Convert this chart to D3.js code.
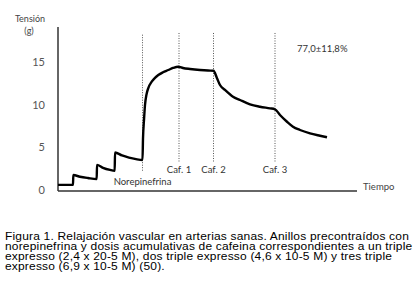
<!DOCTYPE html>
<html><head><meta charset="utf-8">
<script src="https://cdn.jsdelivr.net/npm/d3@7"></script>
<style>
html,body{margin:0;padding:0;background:#fff;}
svg{display:block;}
</style></head>
<body>
<script>
// ---- data ----
const yTicks = [0, 5, 10, 15];
// tension trace: time (arbitrary units) and tension (g)
const traceTime = [0, 15, 15.3, 22, 30, 38.7, 39, 45, 52, 56.7, 57, 64, 71, 78, 84.5,
  85, 86, 87, 88.5, 90.3, 93.7, 97, 100.3, 105, 110.3, 115, 120.3, 125, 132, 142, 150, 155.5,
  159, 162, 167, 175, 182, 192, 202, 212, 217,
  222, 229, 235, 242, 252, 262, 269];
const traceTension = [0.6, 0.6, 1.75, 1.55, 1.4, 1.28, 2.95, 2.6, 2.35, 2.25, 4.4, 4.05, 3.8, 3.62, 3.52,
  6.0, 8.2, 9.96, 11.2, 11.95, 12.69, 13.15, 13.48, 13.8, 14.06, 14.3, 14.45, 14.3, 14.18, 14.06, 14.0, 13.98,
  13.1, 12.3, 11.72, 10.93, 10.55, 10.04, 9.76, 9.57, 9.46,
  8.79, 8.0, 7.42, 7.03, 6.64, 6.36, 6.18];
const markerNames = ["Norepinefrina", "Caf. 1", "Caf. 2", "Caf. 3"];
const markerTime = [84.5, 121, 155.5, 217];
const resultLabel = "77,0\u00b111,8%";
const yTitle = ["Tensión", "(g)"];
const xTitle = "Tiempo";
const caption = [
  "Figura 1. Relajación vascular en arterias sanas. Anillos precontraídos con",
  "norepinefrina y dosis acumulativas de cafeina correspondientes a un triple",
  "expresso (2,4 x 20-5 M), dos triple expresso (4,6 x 10-5 M) y tres triple",
  "expresso (6,9 x 10-5 M) (50)."
];

// ---- drawing ----
const W = 420, H = 300;
const svg = d3.select("body").append("svg").attr("width", W).attr("height", H);
const x = d3.scaleLinear().domain([0, 300]).range([58, 358]);
const y = d3.scaleLinear().domain([0, 15]).range([190, 62]);
const gfont = "Lato, 'Open Sans', sans-serif";
const axisCol = "#333";

// axes
svg.append("line").attr("x1", x(0)).attr("x2", x(0)).attr("y1", y(19.1)).attr("y2", y(-0.12))
  .attr("stroke", axisCol).attr("stroke-width", 1.5);
svg.append("line").attr("x1", x(0)).attr("x2", x(299)).attr("y1", y(-0.12)).attr("y2", y(-0.12))
  .attr("stroke", axisCol).attr("stroke-width", 1.5);

svg.selectAll("text.ytick").data(yTicks).enter().append("text")
  .attr("class", "ytick")
  .attr("x", x(0) - 13).attr("y", d => y(d)).attr("dy", "0.36em")
  .attr("text-anchor", "end").attr("font-family", gfont).attr("font-size", 11)
  .attr("fill", "#555").text(d => d);

svg.append("text").attr("x", 30).attr("y", 22).attr("text-anchor", "middle")
  .attr("font-family", gfont).attr("font-size", 9).attr("fill", "#444").text(yTitle[0]);
svg.append("text").attr("x", 29).attr("y", 34).attr("text-anchor", "middle")
  .attr("font-family", gfont).attr("font-size", 9).attr("fill", "#444").text(yTitle[1]);
svg.append("text").attr("x", x(305)).attr("y", y(-0.12)).attr("dy", "-0.1em")
  .attr("font-family", gfont).attr("font-size", 9.5).attr("fill", "#444").text(xTitle);

// markers
const markers = markerNames.map((n, i) => ({name: n, t: markerTime[i], first: i === 0}));
svg.selectAll("line.mk").data(markers).enter().append("line")
  .attr("class", "mk")
  .attr("x1", d => x(d.t)).attr("x2", d => x(d.t))
  .attr("y1", d => y(d.first ? 18.2 : 18.4)).attr("y2", d => y(d.first ? 2.1 : 3.3))
  .attr("stroke", "#555").attr("stroke-width", 1).attr("stroke-dasharray", "1,1.5");
svg.selectAll("text.mk").data(markers).enter().append("text")
  .attr("class", "mk")
  .attr("x", d => x(d.t)).attr("y", d => d.first ? y(0.6) : y(1.95))
  .attr("text-anchor", "middle").attr("font-family", gfont).attr("font-size", 9.5)
  .attr("fill", "#333").text(d => d.name);

svg.append("text").attr("x", x(239)).attr("y", y(16.2))
  .attr("font-family", gfont).attr("font-size", 9.5).attr("fill", "#333").text(resultLabel);

// trace
const pts = traceTime.map((t, i) => [t, traceTension[i]]);
svg.append("path").datum(pts)
  .attr("d", d3.line().x(d => x(d[0])).y(d => y(d[1])).curve(d3.curveMonotoneX))
  .attr("fill", "none").attr("stroke", "#000").attr("stroke-width", 2.4)
  .attr("stroke-linejoin", "round");

// caption (slightly compressed vertically, as in the reference)
const vs = 0.88;
const capG = svg.append("g").attr("transform", `scale(1,${vs})`);
capG.selectAll("text.cap").data(caption).enter().append("text")
  .attr("class", "cap")
  .attr("x", 5).attr("y", (d, i) => (240 + i * 10) / vs)
  .attr("font-family", "'Liberation Sans', Arial, sans-serif").attr("font-size", 12)
  .attr("letter-spacing", 0.18)
  .attr("fill", "#000").text(d => d);
</script>
</body></html>
